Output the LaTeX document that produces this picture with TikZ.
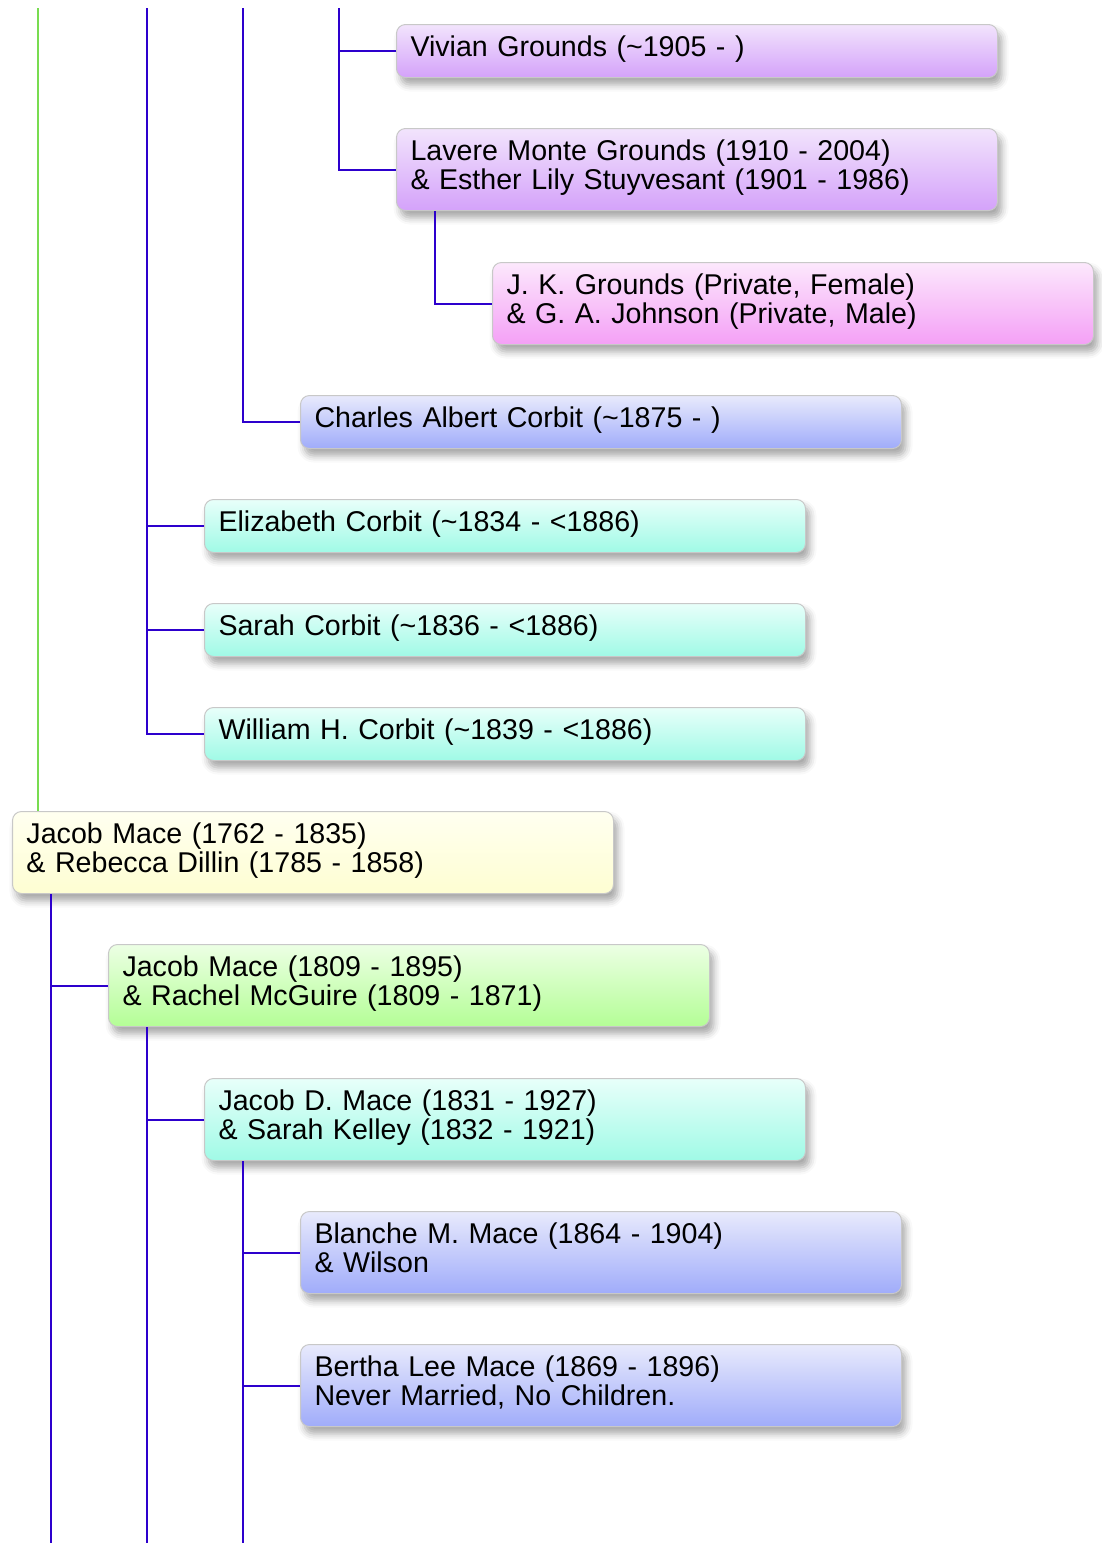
\documentclass[tikz,border=0pt]{standalone}
\usepackage{fontspec}
\setmainfont{Liberation Sans}
\usetikzlibrary{shadows.blur}
\definecolor{lineblue}{RGB}{45,0,205}
\definecolor{linegreen}{RGB}{120,220,80}
\definecolor{boxborder}{RGB}{200,200,200}
\definecolor{purTop}{RGB}{242,228,252}
\definecolor{purBot}{RGB}{212,162,250}
\definecolor{pnkTop}{RGB}{252,232,252}
\definecolor{pnkBot}{RGB}{244,160,246}
\definecolor{bluTop}{RGB}{232,234,252}
\definecolor{bluBot}{RGB}{160,172,250}
\definecolor{cyaTop}{RGB}{232,255,250}
\definecolor{cyaBot}{RGB}{160,250,230}
\definecolor{yelTop}{RGB}{255,255,240}
\definecolor{yelBot}{RGB}{254,254,210}
\definecolor{grnTop}{RGB}{236,255,228}
\definecolor{grnBot}{RGB}{180,254,150}
\tikzset{
  pbox/.style={draw=boxborder, line width=1pt, rounded corners=9pt, anchor=north west,
    text width=573pt, align=left, inner xsep=14pt, inner ysep=0pt,
    font=\fontsize{28.6}{29.5}\selectfont,
    blur shadow={shadow xshift=4pt, shadow yshift=-7pt, shadow blur radius=7pt, shadow opacity=35}},
  one/.style={minimum height=53pt, text depth=10.5pt},
  two/.style={minimum height=82pt, text depth=39.5pt},
  fpur/.style={top color=purTop, bottom color=purBot},
  fpnk/.style={top color=pnkTop, bottom color=pnkBot},
  fblu/.style={top color=bluTop, bottom color=bluBot},
  fcya/.style={top color=cyaTop, bottom color=cyaBot},
  fyel/.style={top color=yelTop, bottom color=yelBot},
  fgrn/.style={top color=grnTop, bottom color=grnBot},
  link/.style={draw=lineblue, line width=2pt},
  glink/.style={draw=linegreen, line width=2pt},
}
\begin{document}
\begin{tikzpicture}[x=1pt,y=-1pt]
\useasboundingbox (0,0) rectangle (1102,1551);
\node[pbox,one,fpur] (viv) at (396,24) {Vivian Grounds (\char"7E 1905 - )};
\node[pbox,two,fpur] (lav) at (396,128) {Lavere Monte Grounds (1910 - 2004)\\\& Esther Lily Stuyvesant (1901 - 1986)};
\node[pbox,two,fpnk] (jk) at (492,262) {J. K. Grounds (Private, Female)\\\& G. A. Johnson (Private, Male)};
\node[pbox,one,fblu] (cha) at (300,395) {Charles Albert Corbit (\char"7E 1875 - )};
\node[pbox,one,fcya] (eli) at (204,499) {Elizabeth Corbit (\char"7E 1834 - <1886)};
\node[pbox,one,fcya] (sar) at (204,603) {Sarah Corbit (\char"7E 1836 - <1886)};
\node[pbox,one,fcya] (wil) at (204,707) {William H. Corbit (\char"7E 1839 - <1886)};
\node[pbox,two,fyel] (jm1) at (12,811) {Jacob Mace (1762 - 1835)\\\& Rebecca Dillin (1785 - 1858)};
\node[pbox,two,fgrn] (jm2) at (108,944) {Jacob Mace (1809 - 1895)\\\& Rachel McGuire (1809 - 1871)};
\node[pbox,two,fcya] (jd) at (204,1078) {Jacob D. Mace (1831 - 1927)\\\& Sarah Kelley (1832 - 1921)};
\node[pbox,two,fblu] (bla) at (300,1211) {Blanche M. Mace (1864 - 1904)\\\& Wilson};
\node[pbox,two,fblu] (ber) at (300,1344) {Bertha Lee Mace (1869 - 1896)\\Never Married, No Children.};
% connectors
\coordinate (t339) at (339,8);
\coordinate (t243) at (243,8);
\coordinate (t147) at (147,8);
\coordinate (t38) at (38,8);
\coordinate (x435) at (435,0);
\coordinate (b51) at (51,1543);
\coordinate (b147) at (147,1543);
\coordinate (b243) at (243,1543);
\draw[link] (t339) |- (lav.west);
\draw[link] (viv.west) -- (viv.west -| t339);
\draw[link] (lav.south -| x435) |- (jk.west);
\draw[link] (t243) |- (cha.west);
\draw[link] (t147) |- (wil.west);
\draw[link] (eli.west) -- (eli.west -| t147);
\draw[link] (sar.west) -- (sar.west -| t147);
\draw[glink] (t38) -- (t38 |- jm1.north);
\draw[link] (jm1.south -| b51) -- (b51);
\draw[link] (jm2.west) -- (jm2.west -| b51);
\draw[link] (jm2.south -| b147) -- (b147);
\draw[link] (jd.west) -- (jd.west -| b147);
\draw[link] (jd.south -| b243) -- (b243);
\draw[link] (bla.west) -- (bla.west -| b243);
\draw[link] (ber.west) -- (ber.west -| b243);
\end{tikzpicture}
\end{document}
